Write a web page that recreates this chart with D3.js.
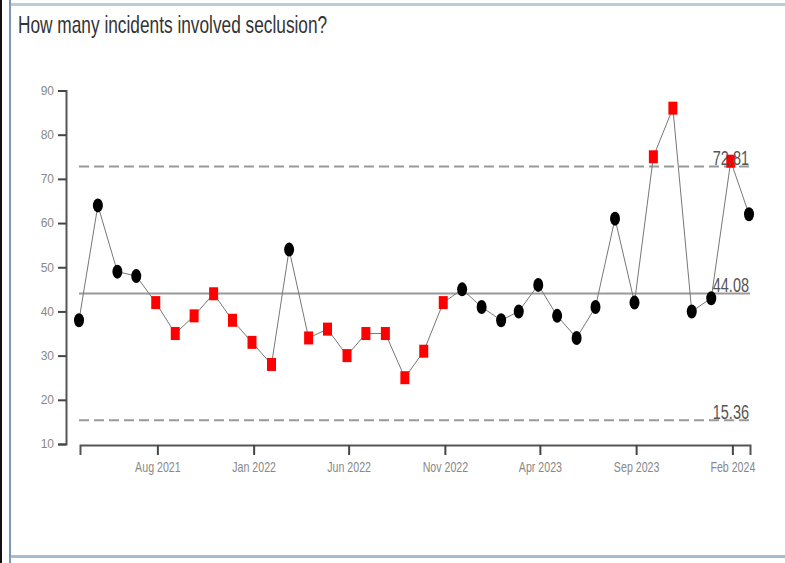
<!DOCTYPE html>
<html>
<head>
<meta charset="utf-8">
<script src="https://cdn.jsdelivr.net/npm/d3@7"></script>
<style>
  body { margin: 0; background: #fff; }
  svg { display: block; font-family: "Liberation Sans", Arial, sans-serif; }
</style>
</head>
<body>
<svg id="chart" width="785" height="563"></svg>
<script>
// monthly counts, one per month end
const months = ["2021-03-31","2021-04-30","2021-05-31","2021-06-30","2021-07-31","2021-08-31",
  "2021-09-30","2021-10-31","2021-11-30","2021-12-31","2022-01-31","2022-02-28",
  "2022-03-31","2022-04-30","2022-05-31","2022-06-30","2022-07-31","2022-08-31",
  "2022-09-30","2022-10-31","2022-11-30","2022-12-31","2023-01-31","2023-02-28",
  "2023-03-31","2023-04-30","2023-05-31","2023-06-30","2023-07-31","2023-08-31",
  "2023-09-30","2023-10-31","2023-11-30","2023-12-31","2024-01-31","2024-02-29"];
const incidents = [38,64,49,48,42,35,39,44,38,33,28,54,34,36,30,35,35,25,31,42,
  45,41,38,40,46,39,34,41,61,42,75,86,40,43,74,62];
// 1 = special cause (red square), 0 = common cause
const special = [0,0,0,0,1,1,1,1,1,1,1,0,1,1,1,1,1,1,1,1,
  0,0,0,0,0,0,0,0,0,0,1,1,0,0,1,0];
const meanVal = 44.08, ucl = 72.81, lcl = 15.36;
const xTicks = ["2021-08-01","2022-01-01","2022-06-01","2022-11-01","2023-04-01","2023-09-01","2024-02-01"];
const yTicks = [10,20,30,40,50,60,70,80,90];

const parse = d3.timeParse("%Y-%m-%d");
const data = months.map((m, i) => ({date: parse(m), value: incidents[i], flag: special[i]}));

const svg = d3.select("#chart");

// frame of the report page
svg.append("rect").attr("x", 0).attr("y", 0).attr("width", 2).attr("height", 563).attr("fill", "#111");
svg.append("rect").attr("x", 9).attr("y", 0).attr("width", 2).attr("height", 563).attr("fill", "#7f98b3");
svg.append("rect").attr("x", 11).attr("y", 3).attr("width", 774).attr("height", 3).attr("fill", "#bccadb");
svg.append("rect").attr("x", 11).attr("y", 555).attr("width", 774).attr("height", 3).attr("fill", "#a9bbcf");

svg.append("text")
  .attr("transform", "translate(18,33) scale(0.72,1)")
  .attr("font-size", 24)
  .attr("fill", "#333")
  .text("How many incidents involved seclusion?");

const x = d3.scaleTime()
  .domain(d3.extent(data, d => d.date))
  .range([79, 749]);
const y = d3.scaleLinear()
  .domain([10, 90])
  .range([444, 90.5]);

// y axis
const yAxis = svg.append("g")
  .attr("transform", "translate(66,0)")
  .call(d3.axisLeft(y).tickValues(yTicks).tickSize(8).tickPadding(4));
yAxis.select(".domain").attr("stroke", "#555").attr("stroke-width", 2);
yAxis.selectAll(".tick line").attr("stroke", "#444").attr("stroke-width", 2);
yAxis.selectAll(".tick text").attr("fill", "#888").attr("font-size", 12)
  .attr("font-family", "'Liberation Sans', Arial, sans-serif");

// x axis
const xAxis = svg.append("g")
  .attr("transform", "translate(1,445)")
  .call(d3.axisBottom(x).tickValues(xTicks.map(parse)).tickFormat(d3.timeFormat("%b %Y"))
    .tickSize(10).tickPadding(7));
xAxis.select(".domain").attr("stroke", "#555").attr("stroke-width", 2);
xAxis.selectAll(".tick line").attr("stroke", "#444").attr("stroke-width", 2);
xAxis.selectAll(".tick text").attr("fill", "#888").attr("font-size", 14)
  .attr("font-family", "'Liberation Sans', Arial, sans-serif")
  .attr("transform", "scale(0.76,1)")
  .attr("x", function(d){ return 0; });
// scale() squeezes around the tick origin so the labels stay centred

// control lines
svg.append("line")
  .attr("x1", 79).attr("x2", 750)
  .attr("y1", y(meanVal)).attr("y2", y(meanVal))
  .attr("stroke", "#999").attr("stroke-width", 2);
[ucl, lcl].forEach(v => {
  svg.append("line")
    .attr("x1", 79).attr("x2", 750)
    .attr("y1", y(v)).attr("y2", y(v))
    .attr("stroke", "#999").attr("stroke-width", 2)
    .attr("stroke-dasharray", "10,5");
});

// series
svg.append("path")
  .datum(data)
  .attr("fill", "none")
  .attr("stroke", "#777")
  .attr("stroke-width", 1)
  .attr("d", d3.line().x(d => x(d.date)).y(d => y(d.value)));

svg.selectAll("ellipse.pt")
  .data(data.filter(d => !d.flag))
  .enter().append("ellipse")
  .attr("class", "pt")
  .attr("cx", d => x(d.date))
  .attr("cy", d => y(d.value))
  .attr("rx", 5).attr("ry", 7)
  .attr("fill", "#000");

svg.selectAll("rect.pt")
  .data(data.filter(d => d.flag))
  .enter().append("rect")
  .attr("class", "pt")
  .attr("x", d => x(d.date) - 4.5)
  .attr("y", d => y(d.value) - 6.5)
  .attr("width", 9).attr("height", 13)
  .attr("fill", "#ff0000");

// line labels
[ucl, meanVal, lcl].forEach(v => {
  svg.append("text")
    .attr("transform", `translate(749,${y(v) - 1}) scale(0.69,1)`)
    .attr("text-anchor", "end")
    .attr("font-size", 21)
    .attr("fill", "#555")
    .text(v.toFixed(2));
});
</script>
</body>
</html>
